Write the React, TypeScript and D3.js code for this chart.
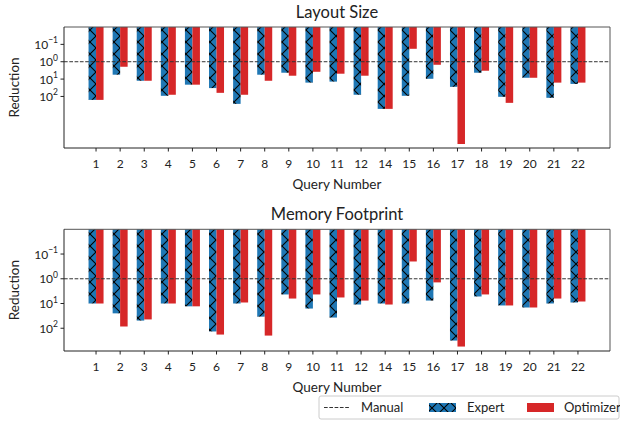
import React from 'react';
import * as d3 from 'd3';

const queries = ['1', '2', '3', '4', '5', '6', '7', '8', '9', '10', '11', '12', '14', '15', '16', '17', '18', '19', '20', '21', '22'];

// Layout Size
const layoutExpert = [158, 5.6, 12.5, 92, 21, 33, 268, 5.6, 4.3, 16, 14, 80, 520, 92, 9.6, 28, 4.3, 105, 8.4, 120, 19];
const layoutOptimizer = [158, 1.95, 12.5, 80, 21, 62, 80, 12.5, 6.4, 3.8, 4.9, 6.4, 520, 0.18, 1.5, 55000, 3.3, 234, 8.4, 16, 16];

// Memory Footprint
const memoryExpert = [10, 25, 49, 10, 13, 135, 10, 34, 4.3, 16, 37, 11, 10, 10, 7.6, 315, 5.2, 12, 14.5, 10, 9.1];
const memoryOptimizer = [10, 85, 44, 10, 13, 180, 9.1, 198, 6.3, 4.3, 5.7, 7.6, 11, 0.2, 1.4, 550, 4.3, 12, 14.5, 6.3, 8.3];

const yTicks = [0.1, 1, 10, 100];
const tickExp = ['−1', '0', '1', '2'];

const BLUE = '#1f77b4';
const RED = '#d62728';
const FONT = 'Lato, "Noto Sans", sans-serif';

const left = 64;
const right = 610;

type PanelProps = {
  title: string;
  expert: number[];
  optimizer: number[];
  top: number;
  bottom: number;
  domain: [number, number];
};

function Panel({ title, expert, optimizer, top, bottom, domain }: PanelProps) {
  const x = d3.scalePoint<string>().domain(queries).range([left, right]).padding(1.33);
  const y = d3.scaleLog().domain(domain).range([top, bottom]);
  const w = 7.5;
  const cx = (left + right) / 2;

  return (
    <g fontFamily={FONT} fill="#222">
      <text x={cx} y={top - 9} textAnchor="middle" fontSize={16.5}>{title}</text>
      {queries.map((q, i) => (
        <g key={q}>
          <rect x={x(q)! - w} y={top} width={w} height={y(expert[i]) - top} fill="url(#xhatch)" />
          <rect x={x(q)!} y={top} width={w} height={y(optimizer[i]) - top} fill={RED} />
        </g>
      ))}
      <line x1={left} x2={right} y1={y(1)} y2={y(1)} stroke="#333" strokeWidth={1} strokeDasharray="3.7,1.6" />
      <line x1={left} x2={right} y1={top} y2={top} stroke="#555" />
      <line x1={right} x2={right} y1={top} y2={bottom} stroke="#555" />
      <line x1={left} x2={left} y1={top} y2={bottom} stroke="#222" />
      <line x1={left} x2={right} y1={bottom} y2={bottom} stroke="#222" />
      {yTicks.map((t, i) => (
        <g key={t}>
          <line x1={left - 3.5} x2={left} y1={y(t)} y2={y(t)} stroke="#222" />
          <text x={left - 6} y={y(t) + 4.5} textAnchor="end" fontSize={12}>
            <tspan>10</tspan>
            <tspan dy={-5.5} fontSize={8.5}>{tickExp[i]}</tspan>
          </text>
        </g>
      ))}
      {queries.map((q) => (
        <g key={'t' + q}>
          <line x1={x(q)} x2={x(q)} y1={bottom} y2={bottom + 3.5} stroke="#222" />
          <text x={x(q)} y={bottom + 20} textAnchor="middle" fontSize={12}>{q}</text>
        </g>
      ))}
      <text x={cx} y={bottom + 41} textAnchor="middle" fontSize={13.5}>Query Number</text>
      <text
        transform={`translate(19,${(top + bottom) / 2}) rotate(-90)`}
        textAnchor="middle"
        fontSize={13.5}
      >
        Reduction
      </text>
    </g>
  );
}

export default function App() {
  return (
    <svg
      width={620}
      height={421}
      style={{ position: 'absolute', left: 0, top: 0, display: 'block', background: '#fff' }}
    >
      <defs>
        <pattern id="xhatch" patternUnits="userSpaceOnUse" width={12} height={12}>
          <rect width={12} height={12} fill={BLUE} />
          <path d="M0,0L12,12M12,0L0,12" stroke="#000" strokeWidth={1.1} />
        </pattern>
      </defs>
      <rect width={620} height={421} fill="#fff" />
      <Panel
        title="Layout Size"
        expert={layoutExpert}
        optimizer={layoutOptimizer}
        top={27}
        bottom={148}
        domain={[0.01, Math.pow(10, 4.97)]}
      />
      <Panel
        title="Memory Footprint"
        expert={memoryExpert}
        optimizer={memoryOptimizer}
        top={229.3}
        bottom={351}
        domain={[0.01, Math.pow(10, 2.92)]}
      />
      <g fontFamily={FONT} fontSize={13} fill="#222">
        <rect x={319} y={396} width={300} height={23} rx={2} fill="#fff" stroke="#ccc" />
        <line x1={324} x2={350} y1={407.5} y2={407.5} stroke="#333" strokeDasharray="3.7,1.6" />
        <text x={361} y={412}>Manual</text>
        <rect x={429} y={403} width={27} height={9} fill="url(#xhatch)" />
        <text x={467} y={412}>Expert</text>
        <rect x={527} y={403} width={27} height={9} fill={RED} />
        <text x={564} y={412}>Optimizer</text>
      </g>
    </svg>
  );
}
